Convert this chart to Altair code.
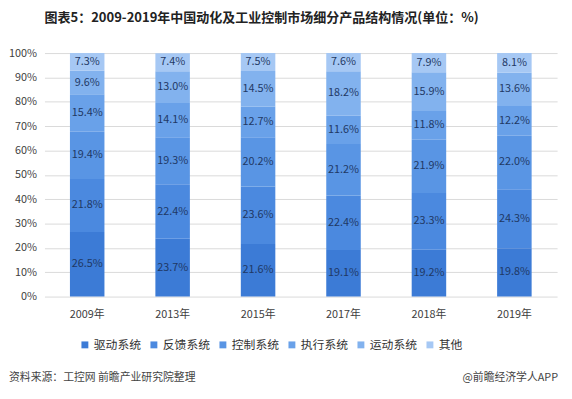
import altair as alt
import pandas as pd

years = ["2009年", "2013年", "2015年", "2017年", "2018年", "2019年"]
systems = ["驱动系统", "反馈系统", "控制系统", "执行系统", "运动系统", "其他"]
drive = [26.5, 23.7, 21.6, 19.1, 19.2, 19.8]
feedback = [21.8, 22.4, 23.6, 22.4, 23.3, 24.3]
control = [19.4, 19.3, 20.2, 21.2, 21.9, 22.0]
execute = [15.4, 14.1, 12.7, 11.6, 11.8, 12.2]
motion = [9.6, 13.0, 14.5, 18.2, 15.9, 13.6]
other = [7.3, 7.4, 7.5, 7.6, 7.9, 8.1]
colors = ["#3c7bd6", "#4b89df", "#5995e4", "#69a1e9", "#82b2ee", "#a6c8f4"]

series = [drive, feedback, control, execute, motion, other]
rows = []
for i, (name, vals) in enumerate(zip(systems, series)):
    for y, v in zip(years, vals):
        rows.append({"year": y, "system": name, "value": v, "order": i,
                     "label": f"{v:.1f}%"})
df = pd.DataFrame(rows)

FONT = "Noto Sans CJK SC"

base = alt.Chart(df).transform_stack(
    stack="value", as_=["y0", "y1"], groupby=["year"],
    sort=[alt.SortField("order", order="ascending")]
).transform_calculate(mid="(datum.y0 + datum.y1) / 2")

xaxis = alt.Axis(labelAngle=0, ticks=False, domain=False, grid=False,
                 labelFontSize=11, labelColor="#404040", labelPadding=12,
                 labelFont=FONT)
yaxis = alt.Axis(values=list(range(0, 101, 10)), labelExpr="datum.value + '%'",
                 ticks=False, domain=False, gridColor="#d9d9d9",
                 labelOverlap=False, tickCount=11,
                 labelFontSize=11, labelColor="#404040", labelPadding=8,
                 labelFont=FONT)
xscale = alt.Scale(paddingInner=0.6, paddingOuter=0.3)
yscale = alt.Scale(domain=[0, 100], clamp=True)

bars = base.mark_bar(size=35, strokeWidth=0).encode(
    x=alt.X("year:N", sort=years, title=None, scale=xscale, axis=xaxis),
    y=alt.Y("y0:Q", scale=yscale, title=None, axis=yaxis),
    y2="y1:Q",
    color=alt.Color("system:N", scale=alt.Scale(domain=systems, range=colors),
                    legend=alt.Legend(title=None, orient="none", direction="horizontal",
                                      legendX=35, legendY=290, symbolType="square",
                                      symbolSize=49, labelFontSize=12, labelColor="#333333",
                                      labelFont=FONT, labelOffset=3, columnPadding=6,
                                      symbolStrokeWidth=0)),
    order=alt.Order("order:Q"),
)

texts = base.mark_text(fontSize=11, color="#1f3864", font=FONT).encode(
    x=alt.X("year:N", sort=years, title=None, scale=xscale, axis=xaxis),
    y=alt.Y("mid:Q", scale=yscale, title=None, axis=yaxis),
    text="label:N",
)

footer_l = alt.Chart(pd.DataFrame({"t": ["资料来源：工控网 前瞻产业研究院整理"]})).mark_text(
    align="left", fontSize=11, color="#444444", font=FONT
).encode(x=alt.value(-36), y=alt.value(330), text="t:N")

footer_r = alt.Chart(pd.DataFrame({"t": ["@前瞻经济学人APP"]})).mark_text(
    align="right", fontSize=11, color="#444444", font=FONT
).encode(x=alt.value(521), y=alt.value(330), text="t:N")

chart = alt.layer(bars, texts, footer_l, footer_r).properties(
    width=520, height=247,
    autosize=alt.AutoSizeParams(type="none"),
    padding={"left": 37, "top": 43, "right": 7, "bottom": 90},
    title=alt.TitleParams("图表5：2009-2019年中国动化及工业控制市场细分产品结构情况(单位：%)",
                          anchor="start", frame="group", fontSize=13.2, fontWeight="bold",
                          color="#222222", font=FONT, offset=22),
).configure_view(stroke=None)

chart.save("out.html", embed_options={"renderer": "svg", "actions": False})
